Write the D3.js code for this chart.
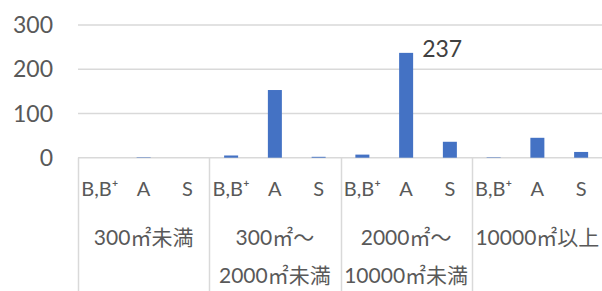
<!DOCTYPE html>
<html><head><meta charset="utf-8">
<script src="https://cdn.jsdelivr.net/npm/d3@7"></script>
<style>body{margin:0;background:#fff}svg{display:block}</style>
</head><body>
<svg id="c" width="602" height="291"></svg>
<script>
const groups = [["300㎡未満"], ["300㎡〜", "2000㎡未満"], ["2000㎡〜", "10000㎡未満"], ["10000㎡以上"]];
const subCats = ["B,B⁺", "A", "S"];
const values = [
  [0, 1, 0],
  [5, 153, 2],
  [7, 237, 36],
  [1, 45, 13]
];
const yTicks = [0, 100, 200, 300];
const labelled = {group: 2, sub: 1};

const svg = d3.select("#c");
const W = 602, H = 291;
const mLeft = 78, mRight = 603, mTop = 25, mBottom = 157.7;
const font = "Lato, 'Noto Sans CJK JP', sans-serif";

const y = d3.scaleLinear().domain([0, 300]).range([mBottom, mTop]);
const xg = d3.scaleBand().domain(d3.range(groups.length)).range([mLeft, mRight]).padding(0);
const xs = d3.scaleBand().domain(subCats).range([0, xg.bandwidth()]).paddingInner(0.68).paddingOuter(0.34);

// gridlines
svg.append("g").selectAll("line").data(yTicks).join("line")
  .attr("x1", mLeft).attr("x2", W).attr("y1", d => y(d)).attr("y2", d => y(d))
  .attr("stroke", "#d9d9d9").attr("stroke-width", 1.5);

// y tick labels
svg.append("g").selectAll("text").data(yTicks).join("text")
  .attr("x", 53).attr("y", d => y(d)).attr("dy", "0.35em")
  .attr("text-anchor", "end").attr("font-family", font).attr("font-size", 23)
  .attr("fill", "#595959").text(d => d);

// group separators
svg.append("g").selectAll("line").data(d3.range(groups.length + 1)).join("line")
  .attr("x1", d => Math.round(mLeft + d * xg.bandwidth()) + 0.5)
  .attr("x2", d => Math.round(mLeft + d * xg.bandwidth()) + 0.5)
  .attr("y1", mBottom).attr("y2", H)
  .attr("stroke", "#d9d9d9").attr("stroke-width", 1.5);

// bars
const flat = [];
values.forEach((vals, gi) => vals.forEach((v, si) => flat.push({gi, sub: subCats[si], si, v})));
svg.append("g").selectAll("rect").data(flat).join("rect")
  .attr("x", d => xg(d.gi) + xs(d.sub))
  .attr("width", xs.bandwidth())
  .attr("y", d => y(d.v))
  .attr("height", d => y(0) - y(d.v))
  .attr("fill", "#4472c4");

// data label
const lab = flat.find(d => d.gi === labelled.group && d.si === labelled.sub);
svg.append("text")
  .attr("x", xg(lab.gi) + xs(lab.sub) + xs.bandwidth() + 9)
  .attr("y", y(lab.v) + 4)
  .attr("font-family", font).attr("font-size", 23).attr("fill", "#404040")
  .text(lab.v);

// sub category labels
svg.append("g").selectAll("text").data(flat).join("text")
  .attr("x", d => xg(d.gi) + xs(d.sub) + xs.bandwidth() / 2)
  .attr("y", 189).attr("dy", "0.35em").attr("text-anchor", "middle")
  .attr("font-family", font).attr("font-size", 20).attr("fill", "#595959")
  .text(d => d.sub);

// group labels
const gl = svg.append("g").selectAll("text").data(groups).join("text")
  .attr("text-anchor", "middle")
  .attr("font-family", font).attr("font-size", 21).attr("fill", "#595959");
gl.selectAll("tspan").data((d, i) => d.map((t, j) => ({t, j, i}))).join("tspan")
  .attr("x", d => xg(d.i) + xg.bandwidth() / 2)
  .attr("y", d => 238 + d.j * 38).attr("dy", "0.35em")
  .text(d => d.t);
</script>
</body></html>
